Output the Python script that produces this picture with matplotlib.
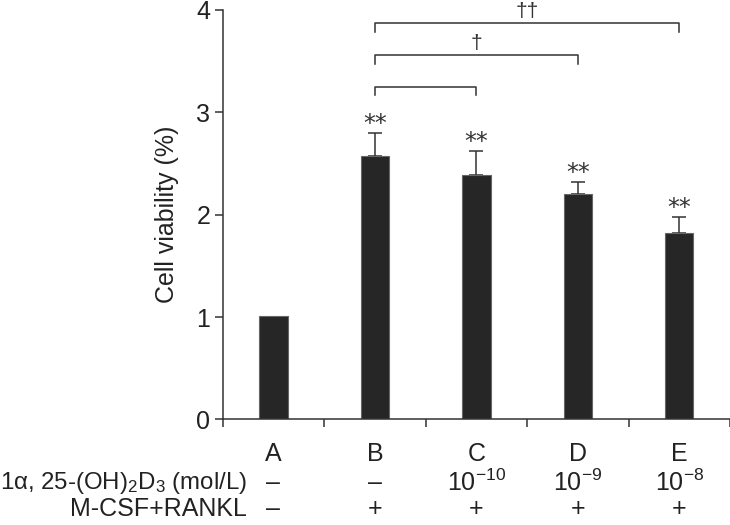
import numpy as np
import matplotlib
matplotlib.use("Agg")
import matplotlib.pyplot as plt
from matplotlib.transforms import blended_transform_factory

plt.rcParams['font.family'] = ['Liberation Sans', 'DejaVu Sans']
plt.rcParams['mathtext.fontset'] = 'custom'
plt.rcParams['mathtext.rm'] = 'Liberation Sans'
plt.rcParams['mathtext.it'] = 'Liberation Sans:italic'

# data
groups = ['A', 'B', 'C', 'D', 'E']
viability = [1.01, 2.57, 2.39, 2.20, 1.82]
sem = [0.0, 0.23, 0.23, 0.12, 0.16]
stars = ['', '**', '**', '**', '**']
vitd_row = ['–', '–', r'$\mathregular{10^{-10}}$', r'$\mathregular{10^{-9}}$', r'$\mathregular{10^{-8}}$']
rankl_row = ['–', '+', '+', '+', '+']
# comparison brackets: (from, to, height, symbol)
brackets = [(1, 2, 3.25, ''), (1, 3, 3.56, '†'), (1, 4, 3.87, '††')]

dark = '#262626'
fs = 18

fig = plt.figure(figsize=(7.3, 5.25), dpi=100)
ax = fig.add_axes([0.305, 0.201, 0.695, 0.780])

x = np.arange(len(groups))
ax.bar(x, viability, width=0.28, color=dark, edgecolor='#666666', linewidth=0.8, zorder=2)
ax.errorbar(x[1:], viability[1:], yerr=[np.zeros(4), sem[1:]], fmt='none',
            ecolor='#333333', elinewidth=1.1, capsize=5, capthick=1.1, zorder=1)

for xi, v, e, s in zip(x, viability, sem, stars):
    if s:
        ax.annotate(s, (xi, v + e), xytext=(0, -2), textcoords='offset points',
                    ha='center', va='bottom', fontsize=17, color='#333333',
                    family='DejaVu Sans')

drop = 0.085
for a, b, h, sym in brackets:
    ax.plot([a, a, b, b], [h - drop, h, h, h - drop], color='#333333', lw=1.1,
            clip_on=False)
    if sym:
        ax.text((a + b) / 2, h + 0.02, sym, ha='center', va='bottom',
                fontsize=fs - 3, color='#333333')

ax.set_xlim(-0.5, 4.5)
ax.set_ylim(0, 4)
ax.set_yticks([0, 1, 2, 3, 4])
ax.tick_params(axis='y', direction='out', length=6, width=1.1, labelsize=fs,
               color='#333333', labelcolor='#222222', pad=3)
ax.set_xticks(x)
ax.set_xticklabels(groups)
ax.set_xticks(np.arange(-0.5, 4.6, 1.0), minor=True)
ax.tick_params(axis='x', which='major', length=0, labelsize=fs, pad=16,
               labelcolor='#222222')
ax.tick_params(axis='x', which='minor', direction='out', length=6, width=1.1,
               color='#333333')
ax.set_ylabel('Cell viability (%)', fontsize=fs, color='#222222', labelpad=12)

for side in ['top', 'right']:
    ax.spines[side].set_visible(False)
for side in ['left', 'bottom']:
    ax.spines[side].set_linewidth(1.1)
    ax.spines[side].set_color('#333333')

tr = blended_transform_factory(ax.transData, fig.transFigure)
y2, y3 = 0.080, 0.030
for xi, a, b in zip(x, vitd_row, rankl_row):
    ax.text(xi, y2, a, transform=tr, ha='center', va='center', fontsize=fs, color='#222222')
    ax.text(xi, y3, b, transform=tr, ha='center', va='center', fontsize=fs, color='#222222')
fig.text(0.338, y2, '1α, 25-(OH)$_\\mathregular{2}$D$_\\mathregular{3}$ (mol/L)',
         ha='right', va='center', fontsize=17.3, color='#222222')
fig.text(0.338, y3, 'M-CSF+RANKL', ha='right', va='center', fontsize=fs, color='#222222')

fig.savefig('out.png', dpi=100)
